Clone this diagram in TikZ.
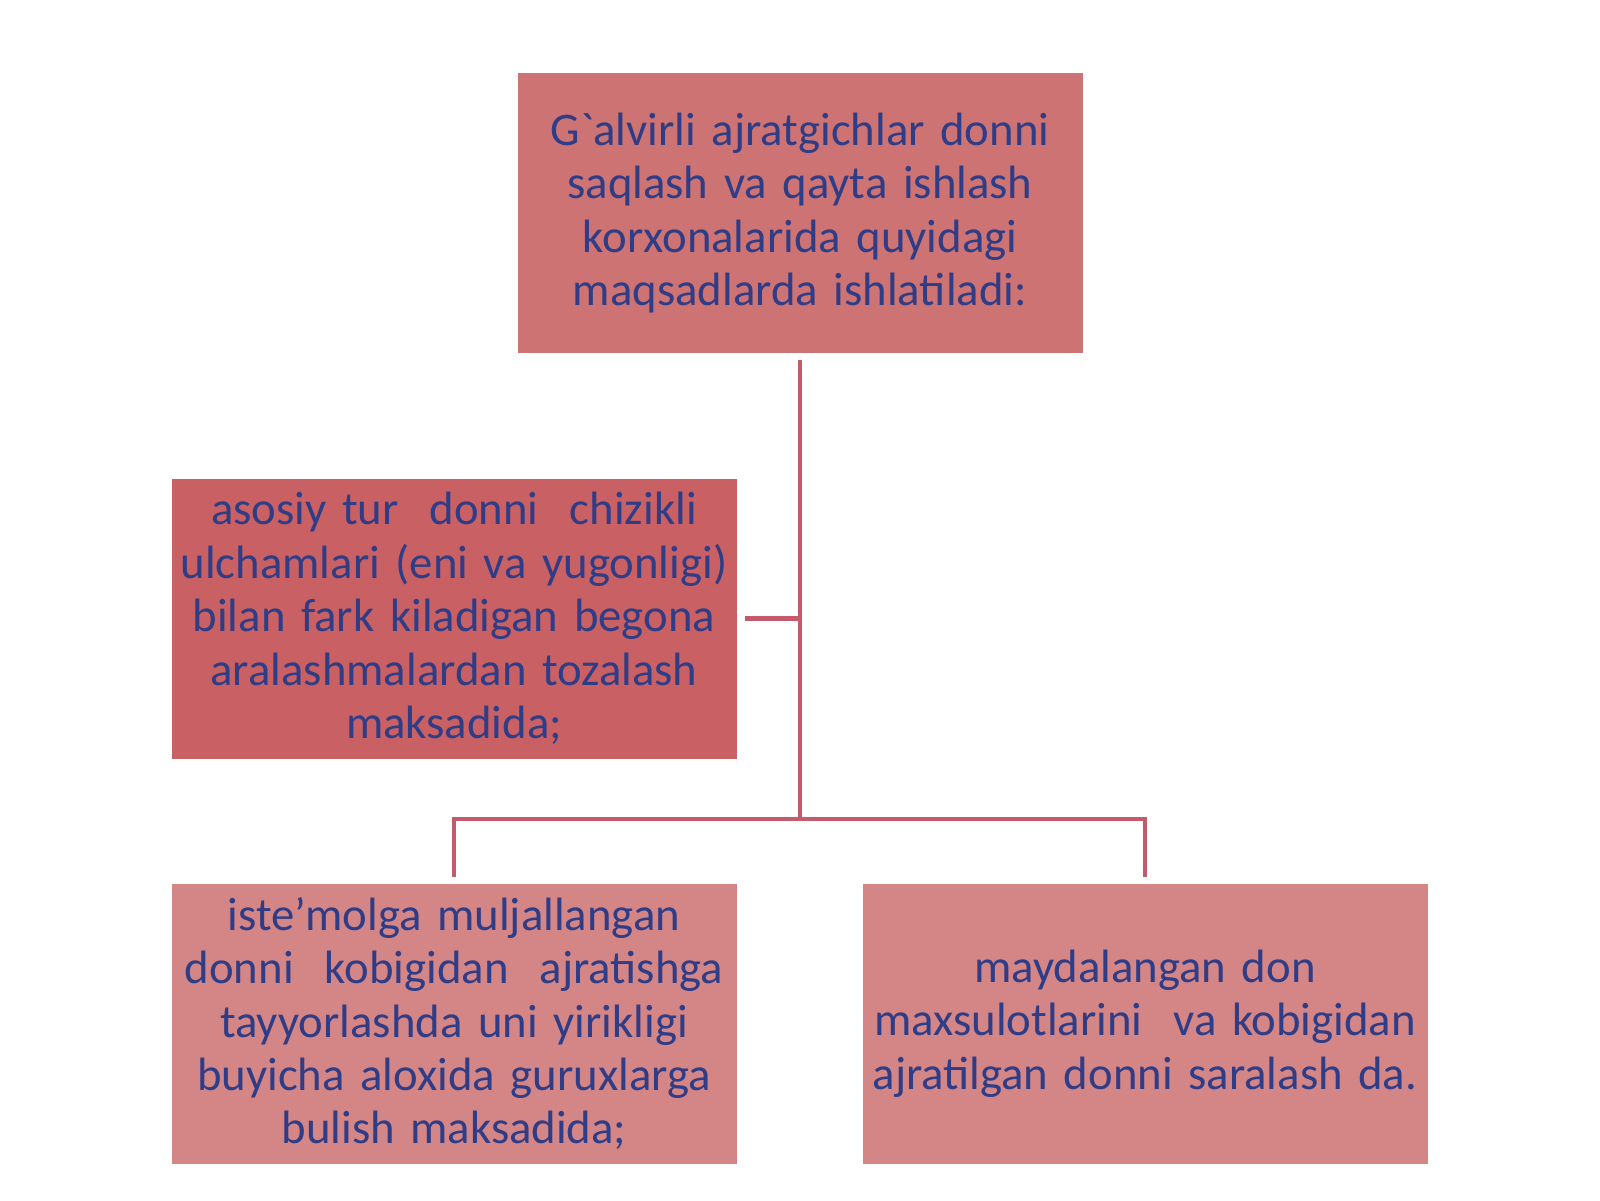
\documentclass[tikz,border=0pt]{standalone}
\usepackage{fontspec}
\setmainfont{Carlito}
\usetikzlibrary{positioning}
\definecolor{boxtop}{HTML}{CD7373}
\definecolor{boxmid}{HTML}{C96063}
\definecolor{boxlow}{HTML}{D48586}
\definecolor{linkred}{HTML}{C45A6C}
\definecolor{textblue}{HTML}{2F3C86}
\tikzset{
    goal/.style={
           rectangle,
           fill=boxtop,
           minimum width=5.65cm,
           minimum height=2.8cm,
           inner sep=0pt,
           text width=5.65cm,
           align=center,
           text=textblue,
           font=\fontsize{13.3}{15.2}\selectfont,
           },
    link/.style={
           draw=linkred, line width=1.2pt,
           },
}
\begin{document}
\begin{tikzpicture}

 \useasboundingbox (0,0) rectangle (16,12);

 \node[goal] (Top) at (8.0,9.87)
 {G\textasciigrave alvirli ajratgichlar donni\\
  saqlash va qayta ishlash\\
  korxonalarida quyidagi\\
  maqsadlarda ishlatiladi:};

 \node[goal,     	% layout (defined above)
  fill=boxmid,  	% darker box
  below of=Top, 	% position is below the top box
  node distance=4.055cm, 	% distance to Top
  xshift=-3.46cm] (Clean) 	% move to the left
 {asosiy tur\ \ donni\ \ chizikli\\
  ulchamlari (eni va yugonligi)\\
  bilan fark kiladigan begona\\
  aralashmalardan tozalash\\
  maksadida;};

 \node[goal,     	% layout (defined above)
  fill=boxlow,  	% lighter box
  below of=Clean, 	% position is below the middle box
  node distance=4.05cm] (Size) 	% distance to Clean
 {iste’molga muljallangan\\
  donni\ \ kobigidan\ \ ajratishga\\
  tayyorlashda uni yirikligi\\
  buyicha aloxida guruxlarga\\
  bulish maksadida;};

 \node[goal,     	% layout (defined above)
  fill=boxlow,  	% lighter box
  right of=Size, 	% position is to the right of Size
  node distance=6.91cm] (Sort) 	% distance to Size
 {maydalangan don\\
  maxsulotlarini\ \ va kobigidan\\
  ajratilgan donni saralash da.};

 % junctions of the tree lines
 \coordinate (TopEnd) at ([yshift=-0.06cm]Top.south);
 \coordinate (Fork) at (TopEnd |- 0,3.81);
 \coordinate (Side) at (TopEnd |- Clean.east);
 \coordinate (CleanEnd) at ([xshift=0.08cm]Clean.east);
 \coordinate (SizeEnd) at ([yshift=0.06cm]Size.north);
 \coordinate (SortEnd) at ([yshift=0.06cm]Sort.north);

 % draw the tree lines
 \draw[link] (TopEnd) -- (Fork);
 \draw[link] (CleanEnd) -- (Side);
 \draw[link] (SizeEnd) |- (Fork) -| (SortEnd);

\end{tikzpicture}
\end{document}
